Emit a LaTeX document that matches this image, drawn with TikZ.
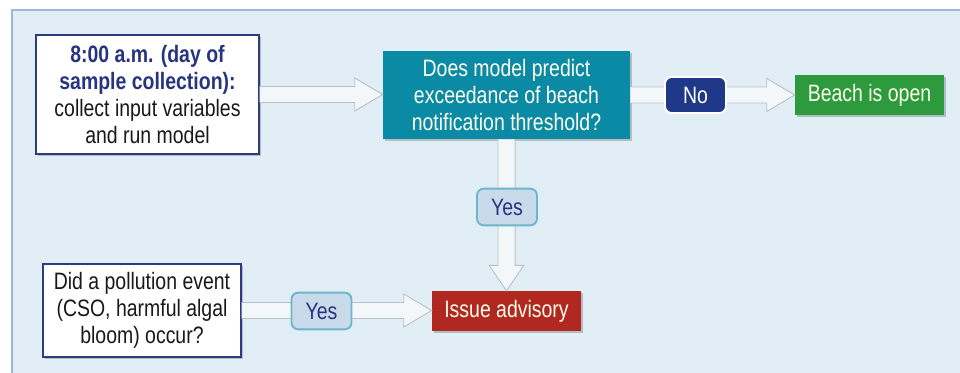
\documentclass[tikz,border=0pt]{standalone}
\usepackage{fontspec}
\setmainfont{Liberation Sans}[FakeStretch=0.82]
\usetikzlibrary{calc,shadows}
\definecolor{panelbg}{HTML}{E2EEF5}
\definecolor{panelline}{HTML}{9DB6D9}
\definecolor{navy}{HTML}{27347F}
\definecolor{boxline}{HTML}{2E3B7E}
\definecolor{tealbox}{HTML}{0A8AA5}
\definecolor{greenbox}{HTML}{2C9A3D}
\definecolor{redbox}{HTML}{B0281F}
\definecolor{nofill}{HTML}{1F3888}
\definecolor{yesfill}{HTML}{C9DAEB}
\definecolor{yesline}{HTML}{6BB7CB}
\definecolor{arrfill}{HTML}{F4F7FA}
\definecolor{arrline}{HTML}{B7C1CA}
\tikzset{
  txt/.style={font=\fontsize{17.8}{20.2}\selectfont, align=center, inner sep=0pt},
  shd/.style={drop shadow={shadow xshift=1.2pt, shadow yshift=-1.2pt, opacity=0.3, fill=black!70}},
  whitebox/.style={txt, shd, draw=boxline, line width=1pt, fill=white, text=black!90},
  colbox/.style={txt, shd, text=white!93!yellow},
  yesbox/.style={txt, draw=yesline, line width=1.4pt, fill=yesfill, rounded corners=5pt, text=navy, minimum width=45pt, minimum height=27.5pt},
  nobox/.style={txt, draw=white, line width=1.4pt, fill=nofill, rounded corners=5pt, text=white, minimum width=45.75pt, minimum height=27pt},
  blk/.style={fill=arrfill, draw=arrline, line width=0.7pt, line join=miter}
}
\newcommand\hblock[2]{\filldraw[blk] let \p1=(#1), \p2=(#2) in
  (\x1,\y1+6pt) -- (\x2-21pt,\y1+6pt) -- (\x2-21pt,\y1+12.4pt) -- (\x2,\y1)
  -- (\x2-21pt,\y1-12.4pt) -- (\x2-21pt,\y1-6pt) -- (\x1,\y1-6pt);}
\newcommand\vblock[2]{\filldraw[blk] let \p1=(#1), \p2=(#2) in
  (\x1-6.4pt,\y1) -- (\x1-6.4pt,\y2+19pt) -- (\x1-13pt,\y2+19pt) -- (\x1,\y2)
  -- (\x1+13pt,\y2+19pt) -- (\x1+6.4pt,\y2+19pt) -- (\x1+6.4pt,\y1);}
\begin{document}
\begin{tikzpicture}[x=0.75pt,y=-0.75pt]
\useasboundingbox (0,0) rectangle (960,373);
\fill[white] (0,0) rectangle (960,373);
\fill[panelbg] (12,10) rectangle (960,373);
\draw[panelline, line width=1.2pt] (12,373) -- (12,10) -- (960,10);

% nodes
\node[whitebox, minimum width=167.25pt, minimum height=89.25pt] (start) at (147.5,94.5)
  {{\bfseries\color{navy}8:00 a.m. (day of}\\{\bfseries\color{navy}sample collection):}\\collect input variables\\and run model};
\node[colbox, fill=tealbox, minimum width=185.25pt, minimum height=66pt] (model) at (506.5,95)
  {Does model predict\\exceedance of beach\\notification threshold?};
\node[colbox, fill=greenbox, minimum width=111.75pt, minimum height=30pt] (open) at (869.5,95)
  {Beach is open};
\node[colbox, fill=redbox, minimum width=111.75pt, minimum height=30pt] (advisory) at (506.5,311)
  {Issue advisory};
\node[whitebox, minimum width=148.5pt, minimum height=69.75pt] (event) at (142,310.5)
  {Did a pollution event\\(CSO, harmful algal\\bloom) occur?};

% connectors
\hblock{start.east}{model.west}
\hblock{model.east}{open.west}
\vblock{model.south}{advisory.north}
\hblock{event.east}{advisory.west}

% labels
\node[nobox] (no) at (695.5,95) {No};
\node[yesbox] (yes1) at (507,207) {Yes};
\node[yesbox] (yes2) at (321.5,311) {Yes};
\end{tikzpicture}
\end{document}
